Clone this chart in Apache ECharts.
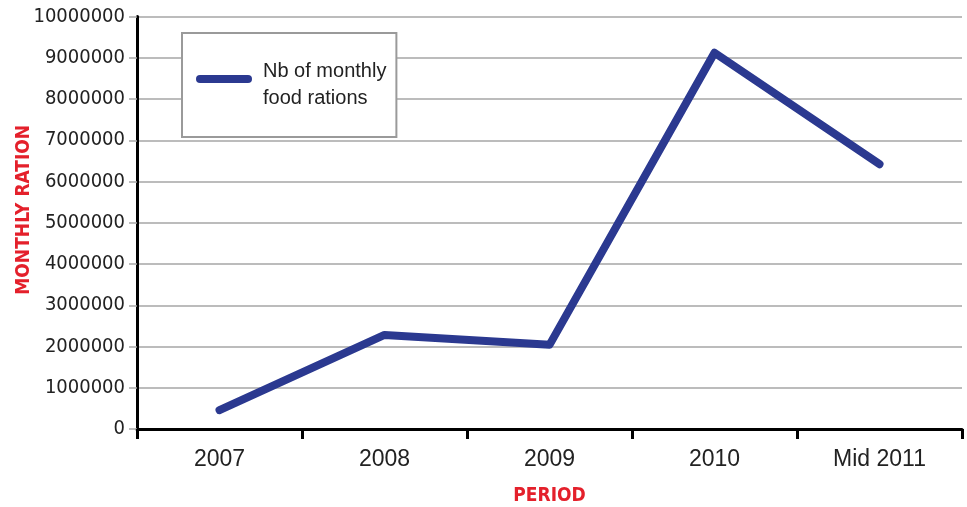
<!DOCTYPE html>
<html>
<head>
<meta charset="utf-8">
<script src="https://cdn.jsdelivr.net/npm/echarts@6/dist/echarts.min.js"></script>
<style>html,body{margin:0;padding:0;background:#fff}#c{width:967px;height:507px}</style>
</head>
<body>
<div id="c"></div>
<script>
const categories = ['2007', '2008', '2009', '2010', 'Mid 2011'];
const rations = [460000, 2280000, 2040000, 9120000, 6420000];
const seriesName = 'Nb of monthly food rations';
const yTickInterval = 1000000;
const yMax = 10000000;

const narrow = '"Liberation Sans Narrow", "DejaVu Sans Condensed", "Liberation Sans", sans-serif';
const regular = '"Liberation Sans", Arial, sans-serif';
const red = '#e4202b';

const chart = echarts.init(document.getElementById('c'), null, {renderer: 'canvas'});
chart.setOption({
  animation: false,
  grid: {left: 137, right: 5, top: 16.5, bottom: 78, containLabel: false, outerBoundsMode: 'none'},
  legend: {
    show: true,
    left: 182, top: 33,
    orient: 'vertical',
    padding: [25, 10, 25, 14],
    borderColor: '#9a9a9a', borderWidth: 2, backgroundColor: '#fff',
    itemWidth: 56, itemHeight: 20,
    icon: 'path://M4,0 L52,0 A4,4 0 0 1 52,8 L4,8 A4,4 0 0 1 4,0 Z M0,20 M56,20',
    formatter: function () { return 'Nb of monthly\nfood rations'; },
    textStyle: {fontFamily: regular, fontSize: 20, lineHeight: 27, color: '#222', padding: [0, 0, 0, 6]},
    data: [seriesName]
  },
  xAxis: {
    type: 'category',
    data: categories,
    boundaryGap: true,
    name: 'PERIOD',
    nameLocation: 'middle',
    nameGap: 58,
    nameMoveOverlap: false,
    nameTextStyle: {fontFamily: narrow, fontWeight: 'bold', fontSize: 19, color: red},
    axisLine: {show: true, onZero: true, lineStyle: {color: '#000', width: 3}},
    axisTick: {show: true, interval: 0, length: 10, lineStyle: {color: '#000', width: 3}},
    axisLabel: {margin: 19, fontFamily: regular, fontSize: 23, color: '#222', interval: 0},
    splitLine: {show: false}
  },
  yAxis: {
    type: 'value',
    min: 0, max: yMax, interval: yTickInterval,
    name: 'MONTHLY RATION',
    nameLocation: 'middle',
    nameGap: 103,
    nameMoveOverlap: false,
    nameTextStyle: {fontFamily: narrow, fontWeight: 'bold', fontSize: 19, color: red, padding: [0, 0, 0, 26]},
    axisLine: {show: true, lineStyle: {color: '#000', width: 3}},
    axisTick: {show: true, length: 8, lineStyle: {color: '#a6a6a6', width: 1.5}},
    axisLabel: {margin: 12, fontFamily: narrow, fontSize: 20, color: '#222', formatter: function (v) { return String(v); }},
    splitLine: {show: true, lineStyle: {color: '#a6a6a6', width: 1.5}}
  },
  series: [{
    name: seriesName,
    type: 'line',
    data: rations,
    symbol: 'none',
    smooth: false,
    itemStyle: {color: '#2b3990'},
    lineStyle: {color: '#2b3990', width: 8, cap: 'round', join: 'round'}
  }]
});
</script>
</body>
</html>
